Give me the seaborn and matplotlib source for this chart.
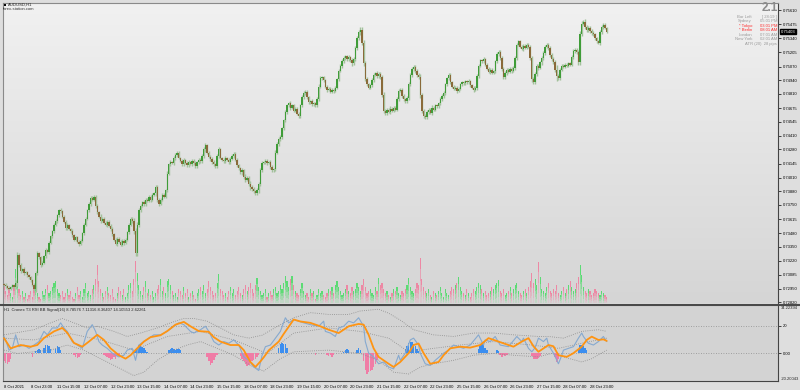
import numpy as np
import pandas as pd
import matplotlib
matplotlib.use("Agg")
import matplotlib.pyplot as plt
import seaborn as sns
from matplotlib.colors import LinearSegmentedColormap
from matplotlib.transforms import blended_transform_factory
from matplotlib.lines import Line2D
from matplotlib.patches import Rectangle

# ---------------- data (AUDUSD H1, prices in points = 1e-5) ----------------
first_open = 72995
close_pts = [
    72990, 72975, 72960, 72950, 72965, 72985, 72970, 73010, 73270, 73180,
    73120, 73140, 73100, 73110, 73080, 73060, 73030, 72990, 72945, 73100,
    73290, 73250, 73180, 73200, 73260, 73320, 73300, 73390, 73450, 73500,
    73560, 73600, 73650, 73700, 73690, 73640, 73590, 73530, 73560, 73520,
    73500, 73460, 73420, 73440, 73400, 73380, 73410, 73480, 73560, 73620,
    73700, 73760, 73820, 73800, 73830, 73740, 73680, 73640, 73600, 73620,
    73580, 73560, 73590, 73550, 73520, 73470, 73420, 73380, 73430, 73400,
    73370, 73410, 73390, 73420, 73490, 73560, 73620, 73600, 73500, 73290,
    73560, 73700, 73740, 73780, 73760, 73800, 73790, 73830, 73800, 73850,
    73860, 73920, 73800, 73760, 73800, 73850, 73830, 73890, 74050, 74140,
    74160, 74150, 74200, 74230, 74250, 74200, 74170, 74140, 74180, 74150,
    74130, 74160, 74140, 74170, 74150, 74120, 74160, 74180, 74170, 74220,
    74280, 74320, 74250, 74210, 74190, 74160, 74140, 74120, 74220, 74280,
    74200, 74180, 74170, 74200, 74180, 74160, 74190, 74220, 74240, 74180,
    74130, 74100, 74060, 74080, 74020, 73990, 74010, 73950, 73920, 73900,
    73880, 73860, 73890, 73950, 74080, 74150, 74160, 74170, 74150, 74160,
    74110, 74080, 74090, 74250, 74330, 74380, 74400, 74480, 74560, 74640,
    74700, 74720, 74680, 74700, 74650, 74670, 74620, 74600, 74700, 74780,
    74820, 74830, 74780, 74730, 74740, 74710, 74720, 74700, 74760, 74880,
    74960, 74970, 74940, 74880, 74850, 74860, 74830, 74850, 74840, 74870,
    74950, 75030, 75080, 75120, 75150, 75170, 75140, 75160, 75130, 75100,
    75140, 75250, 75340, 75400, 75420, 75300, 75100, 74950, 74900, 74870,
    74890, 74940, 74990, 75010, 74980, 75000, 74970, 74800, 74650, 74630,
    74660, 74640, 74670, 74650, 74680, 74660, 74760, 74840, 74850, 74790,
    74760, 74740, 74770, 74900, 74990, 75050, 75070, 75030, 74990, 74970,
    74800, 74650, 74600, 74590, 74640, 74660, 74630, 74680, 74660, 74700,
    74690, 74720, 74760, 74790, 74820, 74900, 74960, 74990, 74920, 74880,
    74860, 74870, 74840, 74860, 74900, 74920, 74910, 74930, 74920, 74930,
    74890, 74870, 74850, 74870, 74980, 75080, 75130, 75120, 75140, 75090,
    75050, 75020, 75040, 75010, 75030, 75120, 75190, 75210, 75150, 75050,
    74970, 75010, 75040, 75020, 75050, 75030, 75060, 75150, 75280, 75310,
    75260, 75240, 75270, 75250, 75280, 75260, 75150, 74950, 74920, 75000,
    75080, 75060, 75110, 75150, 75200, 75260, 75280, 75250, 75180, 75140,
    75110, 75040, 74980, 74960, 75040, 75080, 75070, 75090, 75080, 75100,
    75090, 75160, 75220, 75230, 75210, 75110, 75380, 75480, 75500, 75450,
    75420, 75440, 75410, 75390, 75380, 75340, 75310, 75300, 75400, 75450,
    75470, 75440, 75403,
]
wick_pts = [
    30, 25, 20, 25, 30, 20, 25, 40, 60, 45,
    30, 25, 35, 20, 30, 25, 30, 35, 40, 50,
    45, 30, 35, 25, 30, 40, 25, 35, 30, 25,
    30, 25, 35, 30, 40, 30, 25, 35, 30, 25,
    30, 35, 25, 30, 20, 35, 25, 30, 35, 25,
    30, 40, 35, 25, 30, 35, 30, 25, 40, 30,
    25, 30, 35, 25, 30, 40, 30, 25, 35, 30,
    25, 30, 35, 30, 25, 35, 30, 40, 45, 60,
    50, 40, 30, 25, 35, 30, 25, 30, 35, 30,
    25, 40, 35, 30, 25, 30, 35, 25, 40, 30,
    35, 25, 30, 40, 35, 30, 25, 30, 35, 25,
    30, 35, 25, 30, 40, 30, 25, 30, 35, 30,
    40, 45, 30, 25, 35, 30, 40, 25, 35, 40,
    30, 25, 35, 30, 25, 30, 35, 30, 40, 30,
    35, 30, 25, 40, 35, 45, 30, 40, 50, 35,
    40, 30, 35, 45, 40, 30, 25, 35, 30, 25,
    30, 35, 25, 40, 35, 30, 40, 35, 30, 40,
    35, 30, 40, 25, 30, 35, 30, 40, 35, 30,
    30, 40, 35, 25, 30, 35, 30, 25, 35, 40,
    35, 30, 25, 30, 35, 30, 25, 30, 35, 30,
    30, 35, 30, 40, 35, 30, 25, 35, 30, 40,
    35, 40, 45, 40, 50, 55, 50, 40, 35, 30,
    30, 35, 30, 25, 35, 30, 40, 45, 50, 40,
    35, 30, 40, 35, 30, 25, 35, 40, 30, 35,
    30, 25, 35, 40, 35, 30, 40, 35, 30, 45,
    55, 45, 40, 35, 30, 35, 30, 40, 35, 30,
    25, 30, 35, 30, 40, 35, 30, 35, 40, 30,
    25, 30, 35, 30, 25, 30, 35, 25, 30, 35,
    30, 25, 35, 30, 40, 35, 30, 35, 40, 30,
    25, 30, 35, 30, 25, 35, 40, 35, 30, 45,
    40, 30, 35, 25, 30, 35, 30, 40, 35, 30,
    25, 30, 35, 30, 25, 30, 40, 50, 40, 35,
    30, 35, 30, 40, 35, 30, 25, 35, 30, 40,
    35, 40, 90, 35, 30, 25, 30, 35, 30, 25,
    30, 35, 30, 40, 35, 45, 55, 45, 35, 40,
    30, 35, 30, 40, 35, 30, 25, 35, 45, 40,
    35, 30, 25,
]
tick_volume = [
    18, 12, 8, 14, 10, 6, 16, 34, 20, 14,
    8, 12, 6, 10, 4, 8, 12, 6, 14, 16,
    10, 6, 4, 12, 8, 14, 18, 10, 12, 16,
    20, 22, 14, 10, 8, 12, 6, 10, 14, 8,
    12, 6, 4, 10, 16, 8, 12, 6, 14, 20,
    10, 12, 8, 14, 18, 24, 38, 22, 14, 10,
    6, 12, 16, 10, 8, 14, 6, 4, 10, 16,
    12, 8, 14, 6, 10, 18, 20, 12, 24, 42,
    30, 18, 12, 8, 16, 22, 10, 14, 8, 12,
    6, 10, 14, 18, 24, 12, 16, 10, 22, 24,
    18, 12, 8, 10, 6, 14, 12, 8, 16, 10,
    14, 6, 10, 12, 8, 4, 10, 14, 16, 12,
    18, 10, 14, 22, 16, 12, 8, 10, 20, 29,
    14, 12, 8, 10, 6, 12, 16, 10, 14, 8,
    12, 16, 10, 8, 14, 18, 12, 16, 20, 14,
    10, 18, 25, 16, 12, 8, 10, 14, 6, 10,
    12, 8, 14, 16, 10, 12, 18, 14, 20, 27,
    22, 16, 24, 27, 18, 12, 10, 8, 14, 20,
    12, 8, 10, 6, 14, 10, 12, 4, 8, 14,
    10, 12, 8, 6, 10, 14, 12, 16, 10, 18,
    22, 16, 12, 8, 10, 14, 18, 12, 10, 16,
    12, 14, 20, 16, 12, 18, 24, 16, 10, 12,
    14, 10, 8, 16, 12, 25, 18, 20, 14, 10,
    12, 8, 6, 10, 14, 12, 16, 10, 8, 12,
    10, 14, 18, 25, 16, 12, 10, 14, 20, 18,
    45, 24, 16, 12, 10, 14, 8, 6, 12, 10,
    8, 12, 16, 10, 6, 14, 10, 8, 12, 16,
    14, 18, 20, 26, 16, 12, 10, 8, 14, 10,
    6, 10, 14, 12, 16, 20, 18, 14, 10, 12,
    8, 10, 12, 16, 14, 18, 20, 23, 12, 10,
    14, 8, 10, 12, 16, 10, 14, 18, 20, 12,
    10, 8, 12, 14, 10, 16, 22, 30, 20, 24,
    18, 41, 26, 14, 12, 10, 16, 20, 12, 10,
    14, 12, 18, 10, 8, 12, 16, 10, 14, 18,
    22, 16, 12, 14, 20, 26, 38, 28, 16, 12,
    10, 14, 12, 8, 10, 14, 12, 10, 8, 12,
    10, 8, 6,
]
price_ticks = [75610, 75475, 75340, 75205, 75070, 74940, 74810, 74675, 74545, 74410, 74280,
               74145, 74010, 73880, 73750, 73615, 73480, 73350, 73220, 73085, 72950, 72820]
xtick_labels = ["8 Oct 2021", "8 Oct 23:00", "11 Oct 15:00", "12 Oct 07:00", "12 Oct 23:00",
                "13 Oct 15:00", "14 Oct 07:00", "14 Oct 23:00", "15 Oct 15:00", "18 Oct 07:00",
                "18 Oct 23:00", "19 Oct 15:00", "20 Oct 07:00", "20 Oct 23:00", "21 Oct 15:00",
                "22 Oct 07:00", "22 Oct 23:00", "25 Oct 15:00", "26 Oct 07:00", "26 Oct 23:00",
                "27 Oct 15:00", "28 Oct 07:00", "28 Oct 23:00"]
bars_per_label = 16

# Cronex T3 RSI BB readings (bar index, value)
blue_idx = [0, 1, 3, 5, 7, 9, 12, 15, 18, 21, 24, 26, 29, 32, 34, 36, 38, 41, 44, 47,
            50, 53, 55, 57, 59, 62, 65, 67, 69, 72, 74, 77, 79, 81, 84, 87, 90, 94, 98, 102,
            105, 108, 112, 114, 118, 121, 123, 126, 129, 132, 135, 138, 141, 144, 147, 150, 153, 155, 157, 160,
            163, 166, 169, 171, 174, 177, 180, 184, 189, 192, 193, 196, 199, 201, 204, 207, 210, 213, 216, 217,
            219, 222, 225, 228, 231, 234, 237, 238, 241, 244, 246, 249, 250, 253, 256, 259, 264, 267, 270, 273,
            276, 280, 285, 288, 289, 292, 295, 298, 303, 308, 311, 312, 315, 317, 319, 321, 324, 326, 327, 330,
            333, 335, 336, 339, 342, 345, 347, 348, 351, 354, 357, 360, 362]
blue_val = [12.1, 9.6, 2.2, 3.5, 13.3, 4.7, 5.9, 3.5, 5.9, 8.4, 15.8, 13.3, 18.3, 18.3, 22, 18.3, 15.8, 8.4, 5.9, 3.5,
            15.8, 20.7, 15.8, 8.4, 5.9, 3.5, 0, -1.5, -2.7, -1.5, 2.2, 3.5, -5.2, 5.9, 8.4, 10.9, 13.3, 13.3, 15.8, 19.5,
            22, 20.7, 15.8, 14.6, 17, 19.5, 15.8, 8.4, 5.9, 8.4, 7.2, 9.6, 5.9, -2.7, -5.2, -10, -12.6, -1.5, 4.7, 5.9,
            10.9, 15.8, 25.7, 22, 24.4, 23.2, 22, 20.7, 19.5, 23.2, 15.8, 14.6, 12.1, 18.3, 19.5, 23.2, 22, 25.7, 19.5, 8.4,
            0, -2.7, -7.7, -6.4, -10, -11.4, -1.5, -5.2, 0, 9.6, 10.9, 5.9, 0, -7.7, -8.9, -5.2, 0, 2.2, 5.9, 4.7,
            3.5, 5.9, 13.3, 5.9, 9.6, 8.4, 12.1, 5.9, 4.7, 12.1, 8.4, 10.9, 3.5, 1, 4, 10.9, 8.4, 10.9, 5.9, 0,
            -7.7, -1.5, 2.2, 3.5, 4.7, 10.9, 14.6, 12.1, 7.2, 5.9, 8.4, 12.1, 8.4]
orange_idx = [0, 4, 10, 16, 20, 24, 30, 35, 38, 42, 47, 51, 56, 60, 64, 69, 73, 76, 80, 84,
              88, 94, 98, 103, 108, 112, 117, 123, 126, 130, 136, 141, 144, 148, 151, 154, 156, 159, 165, 168,
              174, 178, 184, 190, 195, 201, 207, 213, 216, 219, 222, 225, 231, 234, 238, 243, 246, 249, 252, 256,
              261, 264, 268, 274, 280, 286, 291, 297, 303, 306, 311, 315, 318, 321, 327, 330, 333, 338, 342, 347,
              350, 353, 357, 360, 362]
orange_val = [10.9, 3.5, 5.9, 4.7, 5.9, 11, 15.8, 18.3, 14.8, 7.4, 4.7, 8.4, 13.3, 9.6, 3.5, -1.5, -4, -1.5, 3.5, 8.4,
              11.6, 13, 16, 20.7, 22.7, 19.5, 16, 15.5, 11.6, 8.4, 5.9, 5.9, 2.2, -6.4, -10, -6, -3, 2, 8.4, 14,
              24.4, 23, 22, 19.5, 17, 14.6, 19.5, 21.2, 20.7, 13.3, 3.5, -2.7, -7.7, -10, -6.4, 0, 5.9, 7, 0, -7.7,
              -6.4, -1.5, 3.5, 4.7, 4, 5.9, 10.9, 8.4, 5.9, 4.7, 8.4, 10.9, 5, 1, 5.9, 5, -1.5, -2.7, 0, 4.7,
              9.6, 12, 9.6, 10, 8.9]
upper_idx = [0, 18, 28, 35, 50, 56, 66, 74, 82, 92, 100, 108, 114, 122, 130, 138, 147, 155, 166, 174,
             184, 195, 207, 214, 225, 231, 238, 246, 258, 270, 282, 294, 306, 321, 327, 336, 347, 357, 362]
upper_val = [13.3, 17, 22, 25.2, 18.3, 19.5, 15.8, 12.1, 14.6, 18.3, 22, 25.2, 25.2, 23.2, 18.3, 13.3, 10.9, 13, 20.7, 25.7,
             29.4, 28.1, 28.1, 30.6, 31.9, 29, 24, 17, 13.3, 12.1, 14.6, 14.6, 13.3, 12.1, 12.1, 10.9, 15.8, 17, 15.8]
mid_idx = [0, 18, 38, 58, 78, 98, 118, 138, 158, 174, 195, 214, 231, 243, 258, 274, 294, 317, 333, 347, 362]
mid_val = [10.9, 9.6, 14.6, 9.6, 2.2, 12.1, 15.8, 9.6, -0.2, 14.6, 18.3, 15.8, 10.9, 1, 3.5, 5.9, 8.4, 5.9, 3.5, 7.2, 10.9]
lower_idx = [0, 8, 18, 28, 38, 48, 58, 68, 78, 84, 92, 102, 110, 118, 128, 138, 148, 156, 166, 174,
             195, 214, 225, 234, 243, 250, 258, 270, 282, 294, 306, 321, 329, 336, 347, 353, 362]
lower_val = [2.2, -0.2, 1, 2.2, 5.9, 2.2, -4, -10.1, -16.3, -13.8, -5.2, 2.2, 5.9, 8.4, 3.5, -1.5, -8.9, -13, -4, 1,
             2.2, -0.2, -5.2, -13.8, -15.1, -10.1, -7.7, -5.2, -1.5, -0.2, -1.5, -2.7, -0.2, -2.7, -6.4, -4, 2.2]
hist_start = [0, 17, 19, 24, 31, 42, 60, 78, 99, 122, 142, 165, 187, 194, 204, 212, 216, 241, 285, 296, 298, 317, 331, 345]
hist_vals = [[-6, -7.5, -7.7, -6.5, -4.5], [-2.5], [1.5, 2.5, 3, 2], [4, 6, 6.2, 5, 3], [3, 4.9, 4.5, 2],
             [-1.5, -3, -3.5, -2.5, -1], [-1, -2, -2.5, -3.5, -5.2, -4, -3, -4.5, -2, -1],
             [1.5, 3, 4, 5.9, 5.5, 4.5, 3.5, 2, 1], [2, 3, 3.5, 3, 2.5, 3.2, 3, 2],
             [-3, -6, -8.9, -7.5, -5, -3, -1.5], [-2, -4, -6, -8, -9, -8.5, -7, -6, -5, -4, -2.5, -1],
             [4, 7, 7.2, 7, 6.5, 4], [-1.2], [-1, -2, -1.5, -2.5, -1], [1, 2.5, 3, 2], [2, 3.5, 2],
             [-6, -12, -15, -14, -13, -12, -10, -8, -5], [3, 5, 7.5, 8.4, 8, 7, 5, 3, 1.5],
             [3, 6, 7.2, 6, 4, 2], [2, 1.5], [-1, -2.5, -1, -2, -1.5], [-2, -4, -4.5, -4, -3.5, -2],
             [-3, -6.4, -4], [3, 6.2, 6, 5, 3.5, 2]]
ind_top, ind_bottom = 34.22394, -20.20043
ind_levels = [20, 0]
header = "H1  Cronex T3 RSI BB Signal(16) 8.78576 7.11316 8.36407 14.10553 2.62261"
info_labels = ["Bar Left", "Sydney", "* Tokyo", "* Berlin", "London", "New York"]
info_values = ["[ 28:19 ]", "05:01 PM", "03:01 PM", "08:01 AM", "07:01 AM", "02:01 AM"]
info_red = [False, False, True, True, False, False]

# ---------------- style ----------------
sns.set_style("white")
plt.rcParams['font.family'] = ['Liberation Sans', 'DejaVu Sans']
FS = 3.0

W, H = 800, 390
fig = plt.figure(figsize=(8, 3.9), dpi=100, facecolor='#dedede')


def frac(x0, y0, x1, y1):
    return [x0 / W, 1 - y1 / H, (x1 - x0) / W, (y1 - y0) / H]


axv = fig.add_axes(frac(3, 3, 778, 303))
ax = fig.add_axes(frac(3, 3, 778, 303), sharex=axv)
axi = fig.add_axes(frac(3, 306, 778, 381), sharex=axv)

n = len(close_pts)
idx = np.arange(n)
close = np.array(close_pts) / 1e5
open_ = np.r_[first_open, close_pts[:-1]] / 1e5
wick = np.array(wick_pts) / 1e5
high = np.maximum(open_, close) + wick / 2
low = np.minimum(open_, close) - wick / 2
up = close >= open_

XL = (-0.6, -0.6 + 775 / 1.665)

# background gradient
cmap_bg = LinearSegmentedColormap.from_list('bg', ['#f1f1f1', '#d5d5d5'])
axv.imshow(np.linspace(0, 1, 256).reshape(-1, 1), extent=[0, 1, 0, 1], transform=axv.transAxes,
           aspect='auto', cmap=cmap_bg, origin='upper', zorder=0)

# volumes with fading gradient
vol = np.array(tick_volume, dtype=float)
vcol = np.where(up, '#4fdc6a', '#f0809f')
alphas = [0.15, 0.35, 0.6, 0.9]
for k, a in enumerate(alphas):
    axv.bar(idx, vol / 4, bottom=vol * k / 4, width=0.7, color=vcol, alpha=a, linewidth=0, zorder=2)
axv.set_ylim(0, 300)
axv.set_xlim(*XL)
axv.axis('off')

# candles
ax.set_zorder(axv.get_zorder() + 1)
ax.patch.set_visible(False)
ax.vlines(idx, low, high, color='#a2c19b', lw=1.0, zorder=2)
body_lo = np.minimum(open_, close)
body_h = np.maximum(np.abs(close - open_), 0.00004)
ax.bar(idx, body_h, bottom=body_lo, width=0.8, color=np.where(up, '#3f9c38', '#8a6a3a'),
       linewidth=0, zorder=3)
ax.set_ylim(0.72815, 0.75677)
ax.set_xlim(*XL)
ax.yaxis.tick_right()
ax.set_yticks(np.array(price_ticks) / 1e5)
ax.set_yticklabels([f"{v / 1e5:.5f}" for v in price_ticks])
ax.tick_params(axis='y', length=2, width=0.5, pad=1.5, labelsize=FS, colors='black')
ax.tick_params(axis='x', which='both', bottom=False, labelbottom=False)
for s in ['top', 'left']:
    ax.spines[s].set_color('#8a8a8a')
    ax.spines[s].set_linewidth(0.8)
ax.spines['right'].set_color('#444444')
ax.spines['right'].set_linewidth(0.8)
ax.spines['bottom'].set_visible(False)
tr = blended_transform_factory(ax.transAxes, ax.transData)
ax.text(1.004, close[-1], f"{close[-1]:.5f}", transform=tr, fontsize=FS, color='white',
        va='center', ha='left', bbox=dict(facecolor='black', edgecolor='black', pad=0.5), zorder=5)

# ---------------- indicator ----------------
axi.set_facecolor('#d3d3d3')
hx, hy = [], []
for s, vals in zip(hist_start, hist_vals):
    hx += [s + j for j in range(len(vals))]
    hy += vals
hx = np.array(hx)
hy = np.array(hy)
axi.bar(hx, hy, width=0.9, color=np.where(hy >= 0, '#3b8ef0', '#f07ca6'), linewidth=0, zorder=2)
for lev in ind_levels:
    axi.axhline(lev, color='#8e8e8e', lw=0.6, ls=(0, (1, 2)), zorder=1)

band_style = dict(color='#8c8c8c', lw=0.6, ls=(0, (1, 1.6)), zorder=3)
sns.lineplot(x=upper_idx, y=upper_val, ax=axi, estimator=None, sort=False, **band_style)
sns.lineplot(x=mid_idx, y=mid_val, ax=axi, estimator=None, sort=False, **band_style)
sns.lineplot(x=lower_idx, y=lower_val, ax=axi, estimator=None, sort=False, **band_style)
sns.lineplot(x=blue_idx, y=blue_val, ax=axi, estimator=None, sort=False, color='#86a9cf', lw=0.8, zorder=4)
sns.lineplot(x=orange_idx, y=orange_val, ax=axi, estimator=None, sort=False, color='#ff9412', lw=1.3, zorder=5)

axi.set_ylim(ind_bottom, ind_top)
axi.set_xlim(*XL)
axi.yaxis.tick_right()
axi.set_yticks(ind_levels)
axi.set_yticklabels(["20", "0.00"])
axi.tick_params(axis='y', length=2, width=0.5, pad=1.5, labelsize=FS, colors='black')
tri = blended_transform_factory(axi.transAxes, axi.transData)
axi.text(1.004, ind_top, f"{ind_top:.5f}", transform=tri, fontsize=FS, va='top', ha='left')
axi.text(1.004, ind_bottom, f"{ind_bottom:.5f}", transform=tri, fontsize=FS, va='bottom', ha='left')
xt = [i * bars_per_label for i in range(len(xtick_labels))]
axi.set_xticks(xt)
axi.set_xticklabels(xtick_labels)
for lab in axi.get_xticklabels():
    lab.set_ha('left')
axi.tick_params(axis='x', length=2, width=0.5, pad=0.8, labelsize=FS, colors='black', direction='out')
axi.set_xlabel('')
axi.set_ylabel('')
axi.spines['top'].set_visible(False)
axi.spines['left'].set_color('#8a8a8a')
for s in ['right', 'bottom']:
    axi.spines[s].set_color('#444444')
    axi.spines[s].set_linewidth(0.8)
axi.text(0.0015, 1 - 4.5 / 75, header, transform=axi.transAxes, fontsize=FS, va='center', ha='left')

# separator between panes
fig.add_artist(Line2D([0, 1], [1 - 304.8 / H] * 2, color='#4a4a4a', lw=1.5))

# ---------------- texts ----------------
fig.add_artist(Rectangle((3.5 / W, 1 - 6 / H), 2.5 / W, 2.5 / H, facecolor='black', edgecolor='none'))
fig.text(8 / W, 1 - 4.8 / H, "AUDUSD,H1", fontsize=FS, va='center', ha='left', color='#222222')
fig.text(2.5 / W, 1 - 8.6 / H, "forex-station.com", fontsize=FS, va='center', ha='left', color='#333333')
fig.text(778 / W, 1 - 11.3 / H, "2.1", fontsize=8.5, fontweight='bold', va='baseline', ha='right',
         color='#8c8c8c')
row_y = [16.7, 21.2, 25.7, 30.2, 34.7, 39.2]
for yy, lab, val, red in zip(row_y, info_labels, info_values, info_red):
    c = '#ff2a2a' if red else '#9a9a9a'
    fig.text(752 / W, 1 - yy / H, lab, fontsize=FS, va='center', ha='right', color=c)
    fig.text(777 / W, 1 - yy / H, val, fontsize=FS, va='center', ha='right', color=c)
fig.text(777 / W, 1 - 43.7 / H, "ATR (20)  28 pips", fontsize=FS, va='center', ha='right', color='#9a9a9a')

fig.savefig("out.png", dpi=100, facecolor=fig.get_facecolor())
